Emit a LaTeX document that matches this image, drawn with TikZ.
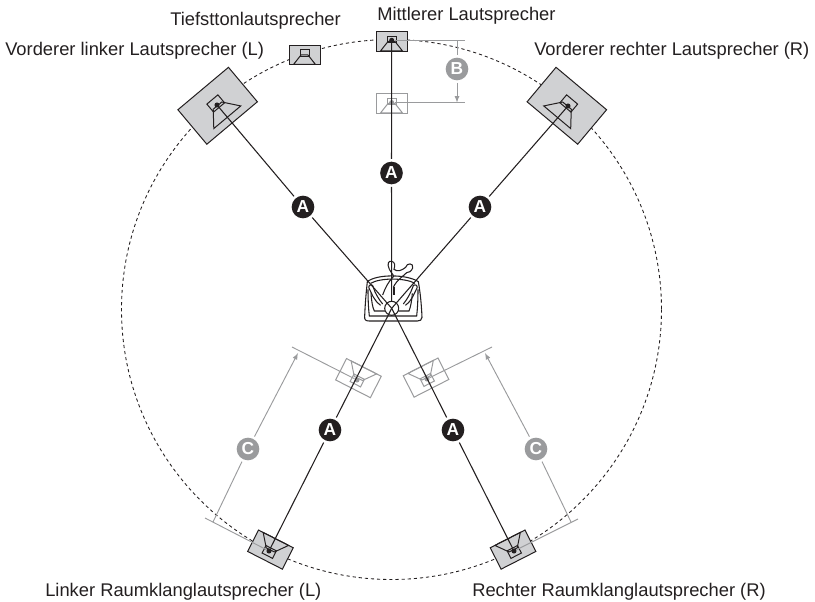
\documentclass[tikz,border=0pt]{standalone}
\usepackage{fontspec}
\setmainfont{Liberation Sans}
\definecolor{boxgray}{HTML}{D0D1D3}
\definecolor{lightline}{HTML}{9A9B9D}
\definecolor{ink}{HTML}{231F20}
\tikzset{
  spkbox/.style = {draw, inner sep=0pt},
  dot/.style = {circle, inner sep=0pt, minimum size=3.8pt},
  badge/.style = {circle, inner sep=0pt, minimum size=17pt, outer sep=2pt, text=white, font=\bfseries\fontsize{13}{13}\selectfont},
  lab/.style = {anchor=base west, inner sep=0pt, text=ink, font=\fontsize{13.75}{14}\selectfont},
}
% name, position, angle, box width, box height, cone scale, line colour, box fill
\newcommand{\speaker}[8]{%
\begin{scope}[shift={#2}, rotate=#3, draw=#7, line width=0.75pt]
\node[spkbox, draw=#7, fill=#8, transform shape, minimum width=#4*0.75pt, minimum height=#5*0.75pt] (#1) at (0,1) {};
\draw[scale=#6] (-4.5,-4.5) rectangle (4.5,2);
\draw[scale=#6] (-3.5,0.5) -- (-11,10) -- (11,10) -- (3.5,0.5) -- cycle;
\end{scope}}

\begin{document}
\begin{tikzpicture}[x=0.75pt, y=-0.75pt]
\useasboundingbox (0,0) rectangle (815,602);
\draw[ink, line width=0.65pt, dash pattern=on 2.4pt off 2.2pt] (391.5,309.5) circle [radius=270];

% moved positions
\speaker{cl}{(391.5,103)}{0}{31}{20}{1}{lightline}{white}
\speaker{rlm}{(358,379)}{153}{39}{24}{1.3}{lightline}{white}
\speaker{rrm}{(426.5,378.5)}{-153}{39}{24}{1.3}{lightline}{white}
% speakers
\speaker{sub}{(304.5,54.5)}{0}{31}{19}{1}{ink}{boxgray}
\speaker{c}{(391.5,41)}{0}{31}{20}{1}{ink}{boxgray}
\speaker{fl}{(217,105)}{40}{66}{45}{1.6}{ink}{boxgray}
\speaker{fr}{(567.5,105)}{-40}{66}{45}{1.6}{ink}{boxgray}
\speaker{rl}{(270,550.5)}{153}{39}{24}{1.3}{ink}{boxgray}
\speaker{rr}{(513.5,550.5)}{-153}{39}{24}{1.3}{ink}{boxgray}

\node[dot, fill=lightline] (cl-dot) at (391.7,102.6) {};
\node[dot, fill=lightline] (rlm-dot) at (357,380) {};
\node[dot, fill=lightline] (rrm-dot) at (427,379) {};
\node[dot, fill=ink] (c-dot) at (391.7,40.3) {};
\node[dot, fill=ink] (fl-dot) at (217,105) {};
\node[dot, fill=ink] (fr-dot) at (568,106) {};
\node[dot, fill=ink] (rl-dot) at (269,551) {};
\node[dot, fill=ink] (rr-dot) at (514,551) {};

% listener
\node[circle, draw=ink, line width=0.8pt, inner sep=0pt, minimum size=10.5pt] (head) at (391.7,308.3) {};
\begin{scope}[shift={(340,230)}, scale=1/3, ink, line width=0.8pt]
\draw (82,155) .. controls (110,132) and (200,132) .. (235,155) .. controls (243,200) and (245,240) .. (246,262) .. controls (246,270) and (240,273) .. (232,273) -- (88,273) .. controls (78,273) and (73,270) .. (74,260) .. controls (75,230) and (78,190) .. (82,155) -- cycle;
\draw (92,160) .. controls (120,143) and (195,143) .. (225,160);
\draw (84,178) .. controls (84,215) and (86,240) .. (88,258) -- (230,258) .. controls (232,240) and (234,215) .. (234,178);
\draw (93,190) .. controls (95,215) and (97,230) .. (103,243) -- (135,243);
\draw (217,190) .. controls (215,215) and (212,230) .. (207,243) -- (175,243);
\draw (86,172) .. controls (86,162) and (100,162) .. (100,172) .. controls (105,190) and (118,210) .. (128,222);
\draw (86,172) .. controls (95,190) and (100,210) .. (122,226);
\draw (232,172) .. controls (232,162) and (218,162) .. (218,172) .. controls (212,190) and (200,210) .. (190,222);
\draw (232,172) .. controls (222,190) and (218,210) .. (196,226);
\draw (148,118) .. controls (140,100) and (146,92) .. (155,94) .. controls (165,96) and (166,106) .. (162,118) .. controls (172,126) and (185,122) .. (197,112) .. controls (200,98) and (222,98) .. (218,114) .. controls (214,124) and (208,128) .. (200,128) .. controls (188,140) and (170,150) .. (160,172);
\draw (148,118) .. controls (150,128) and (162,132) .. (160,140) .. controls (145,155) and (135,175) .. (128,195);
\draw (162,170) -- (162,196);
\end{scope}

% distances
\node[badge, fill=lightline] (b) at (457,69) {B};
\node[badge, fill=lightline] (cleft) at (248,449) {C};
\node[badge, fill=lightline] (cright) at (536,449) {C};
\coordinate (b1) at (457,40.3);
\coordinate (b2) at (457,102.6);
\coordinate (b3) at (465,40.3);
\coordinate (b4) at (465,102.6);
\coordinate (l1) at (292,347);
\coordinate (l2) at (205,518);
\coordinate (l3) at (298,353);
\coordinate (l4) at (213,522);
\coordinate (r1) at (492,347);
\coordinate (r2) at (578,519);
\coordinate (r3) at (485,353);
\coordinate (r4) at (571,522);
\begin{scope}[lightline, line width=0.7pt]
\draw (c-dot) -- (b3);
\draw (cl-dot) -- (b4);
\draw (b1) -- (b);
\draw[-latex] (b) -- (b2);
\draw (rlm-dot) -- (l1);
\draw (rl-dot) -- (l2);
\draw (l4) -- (cleft);
\draw[-latex] (cleft) -- (l3);
\draw (rrm-dot) -- (r1);
\draw (rr-dot) -- (r2);
\draw (r4) -- (cright);
\draw[-latex] (cright) -- (r3);
\end{scope}

% distances to the listener
\node[badge, fill=ink] (a1) at (303,207) {A};
\node[badge, fill=ink] (a2) at (391.5,173) {A};
\node[badge, fill=ink] (a3) at (480,207) {A};
\node[badge, fill=ink] (a4) at (330,430) {A};
\node[badge, fill=ink] (a5) at (453,430) {A};
\begin{scope}[ink, line width=0.8pt]
\draw (fl-dot) -- (a1) -- (head.center);
\draw (c-dot) -- (a2) -- (head.north);
\draw (fr-dot) -- (a3) -- (head.center);
\draw (rl-dot) -- (a4) -- (head.center);
\draw (rr-dot) -- (a5) -- (head.center);
\end{scope}

\node[lab] (t1) at (170,26) {Tiefsttonlautsprecher};
\node[lab] (t2) at (377,21) {Mittlerer Lautsprecher};
\node[lab] (t3) at (5,55.5) {Vorderer linker Lautsprecher (L)};
\node[lab] (t4) at (534,55.5) {Vorderer rechter Lautsprecher (R)};
\node[lab] (t5) at (45,596.5) {Linker Raumklanglautsprecher (L)};
\node[lab] (t6) at (472,596.5) {Rechter Raumklanglautsprecher (R)};
\end{tikzpicture}
\end{document}
